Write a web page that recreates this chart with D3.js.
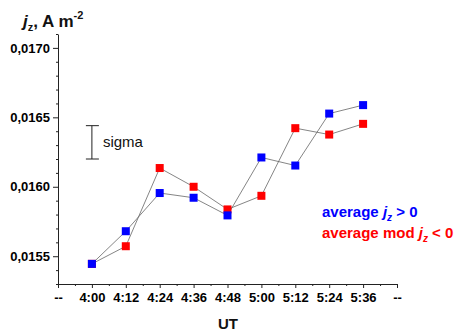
<!DOCTYPE html>
<html>
<head>
<meta charset="utf-8">
<script src="https://cdn.jsdelivr.net/npm/d3@7"></script>
<style>
  body { margin: 0; background: #fff; }
  text { font-family: "Liberation Sans", Arial, sans-serif; }
</style>
</head>
<body>
<div id="chart"></div>
<script>
// tick labels along the bottom (positions 0..10)
const xLabels = ["--", "4:00", "4:12", "4:24", "4:36", "4:48", "5:00", "5:12", "5:24", "5:36", "--"];
const times = ["4:00", "4:12", "4:24", "4:36", "4:48", "5:00", "5:12", "5:24", "5:36"];
const posValues = [0.015445, 0.01568, 0.015955, 0.015921, 0.015794, 0.016211, 0.016153, 0.016527, 0.016588];
const negValues = [0.015445, 0.015572, 0.016135, 0.0160, 0.015837, 0.015935, 0.016422, 0.016376, 0.016453];
const yMajor = [0.0155, 0.0160, 0.0165, 0.0170];
const sigmaCenter = 0.01632, sigmaHalf = 0.00012;

const W = 458, H = 335;
const svg = d3.select("#chart").append("svg").attr("width", W).attr("height", H);

const x = d3.scaleLinear().domain([0, xLabels.length - 1]).range([58, 397]);
const y = d3.scaleLinear().domain([0.0153, 0.0171]).range([284, 34]);
const fmt = (v) => d3.format(".4f")(v).replace(".", ",");

// y axis
const yMinor = d3.range(0.0153, 0.01711, 0.0001).filter(
  (v) => !yMajor.some((m) => Math.abs(m - v) < 1e-8)
);
svg.append("g")
  .attr("transform", "translate(58,0)")
  .call(d3.axisLeft(y).tickValues(yMinor).tickSize(2).tickFormat(""))
  .call((g) => g.select(".domain").remove());
const gy = svg.append("g")
  .attr("transform", "translate(58,0)")
  .call(d3.axisLeft(y).tickValues(yMajor).tickSize(5).tickSizeOuter(0).tickFormat(fmt));
gy.selectAll("text")
  .attr("font-size", 13).attr("font-weight", "bold")
  .attr("font-family", "Liberation Sans, Arial, sans-serif")
  .attr("x", -8);

// x axis
const xMinor = d3.range(0.5, xLabels.length - 1, 1);
svg.append("g")
  .attr("transform", "translate(0,284)")
  .call(d3.axisBottom(x).tickValues(xMinor).tickSize(2).tickFormat(""))
  .call((g) => g.select(".domain").remove());
const gx = svg.append("g")
  .attr("transform", "translate(0,284)")
  .call(d3.axisBottom(x).tickValues(d3.range(xLabels.length)).tickSize(4)
    .tickSizeOuter(0).tickFormat((i) => xLabels[i]));
gx.selectAll("text")
  .attr("font-size", 13).attr("font-weight", "bold")
  .attr("font-family", "Liberation Sans, Arial, sans-serif")
  .attr("y", 9);

svg.selectAll(".domain, .tick line").attr("stroke", "#222");

// series
const line = d3.line().x((d) => x(times.indexOf(d[0]) + 1)).y((d) => y(d[1]));
const series = [
  { values: negValues, color: "#ff0000" },
  { values: posValues, color: "#0000ff" },
];
series.forEach((s) => {
  const pts = times.map((t, i) => [t, s.values[i]]);
  svg.append("path")
    .datum(pts)
    .attr("d", line)
    .attr("fill", "none")
    .attr("stroke", "#666")
    .attr("stroke-width", 0.8);
});
series.forEach((s) => {
  svg.append("g")
    .selectAll("rect")
    .data(times.map((t, i) => [t, s.values[i]]))
    .join("rect")
    .attr("x", (d) => x(times.indexOf(d[0]) + 1) - 4)
    .attr("y", (d) => y(d[1]) - 4)
    .attr("width", 8)
    .attr("height", 8)
    .attr("fill", s.color);
});

// sigma bar
const sx = x(1);
svg.append("line").attr("x1", sx).attr("x2", sx)
  .attr("y1", y(sigmaCenter + sigmaHalf)).attr("y2", y(sigmaCenter - sigmaHalf))
  .attr("stroke", "#222").attr("stroke-width", 1);
[sigmaCenter + sigmaHalf, sigmaCenter - sigmaHalf].forEach((v) => {
  svg.append("line").attr("x1", sx - 6).attr("x2", sx + 7)
    .attr("y1", y(v)).attr("y2", y(v))
    .attr("stroke", "#222").attr("stroke-width", 1);
});
svg.append("text").attr("x", sx + 11).attr("y", y(sigmaCenter) + 5)
  .attr("font-size", 15).attr("fill", "#111").text("sigma");

// title
const title = svg.append("text").attr("x", 23).attr("y", 27)
  .attr("font-size", 17).attr("font-weight", "bold").attr("fill", "#111");
title.append("tspan").attr("font-style", "italic").text("j");
title.append("tspan").attr("font-size", 11).attr("dy", 4).text("z");
title.append("tspan").attr("dy", -4).text(", A m");
title.append("tspan").attr("font-size", 11).attr("dy", -8).text("-2");

// x label
svg.append("text").attr("x", 228).attr("y", 329).attr("text-anchor", "middle")
  .attr("font-size", 15).attr("font-weight", "bold").attr("fill", "#111").text("UT");

// legend
const legend = [
  { pre: "average ", post: " > 0", color: "#0000ff", y: 217 },
  { pre: "average mod ", post: " < 0", color: "#ff0000", y: 238 },
];
legend.forEach((l) => {
  const t = svg.append("text").attr("x", 322).attr("y", l.y)
    .attr("font-size", 15).attr("font-weight", "bold").attr("fill", l.color);
  t.append("tspan").text(l.pre);
  t.append("tspan").attr("font-style", "italic").text("j");
  t.append("tspan").attr("font-size", 10).attr("font-style", "italic").attr("dy", 4).text("z");
  t.append("tspan").attr("dy", -4).text(l.post);
});
</script>
</body>
</html>
